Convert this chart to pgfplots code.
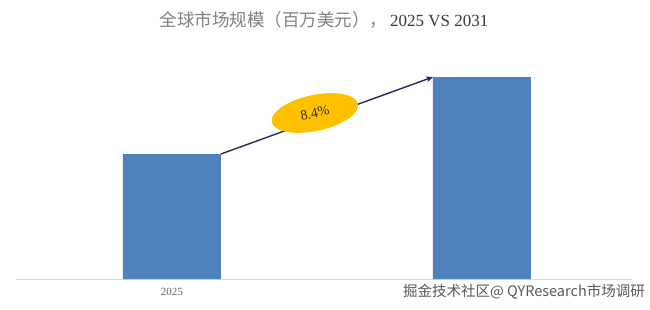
\documentclass[border=0pt]{standalone}
\usepackage{fontspec}
\setmainfont{Liberation Serif}
\newfontfamily\cjk{Noto Sans CJK SC}
\usepackage{pgfplots}
\pgfplotsset{compat=1.18}
\usetikzlibrary{arrows.meta,shapes.geometric}
\definecolor{barblue}{HTML}{4F81BD}
\definecolor{gold}{HTML}{FFC000}
\definecolor{navy}{HTML}{1F2D5A}
\definecolor{darktxt}{HTML}{3A3020}
\begin{document}
\begin{tikzpicture}[x=1pt,y=1pt]
\useasboundingbox (0,0) rectangle (650,309);
\begin{axis}[
  at={(16pt,30pt)}, anchor=south west,
  scale only axis, width=616pt, height=230pt,
  ybar, bar width=98pt,
  xmin=-0.503, xmax=1.484, ymin=0, ymax=230,
  axis x line*=bottom, axis y line=none,
  x axis line style={draw=black!15, line width=0.8pt, -},
  xtick={0,1}, xticklabels={2025,},
  major tick length=0pt,
  ytick=\empty,
  xticklabel style={font=\fontsize{11}{12}\selectfont, text=black!60, yshift=-6pt},
  clip=false,
]
\addplot[fill=barblue, draw=none] coordinates {(0,125) (1,202)};
\draw[navy, line width=1.4pt, -{Stealth[length=7pt,width=6pt]}] (axis cs:0.158,125) -- (axis cs:0.842,202);
\node[ellipse, fill=gold, minimum width=88pt, minimum height=36pt, inner sep=0pt, rotate=12,
  font=\fontsize{14}{15}\selectfont, text=darktxt] at (axis cs:0.461,166) {8.4\%};
\end{axis}
\node[font=\fontsize{17}{19}\selectfont] at (324,289) {{\cjk\fontsize{17.5}{19}\selectfont\color{black!50}全球市场规模（百万美元），}\,\color{black!78}2025 VS 2031};
\node[anchor=east, fill=white, inner sep=1pt, text=black!65, font=\cjk\fontsize{14.5}{16}\selectfont] at (646,17) {掘金技术社区@ QYResearch市场调研};
\end{tikzpicture}
\end{document}
